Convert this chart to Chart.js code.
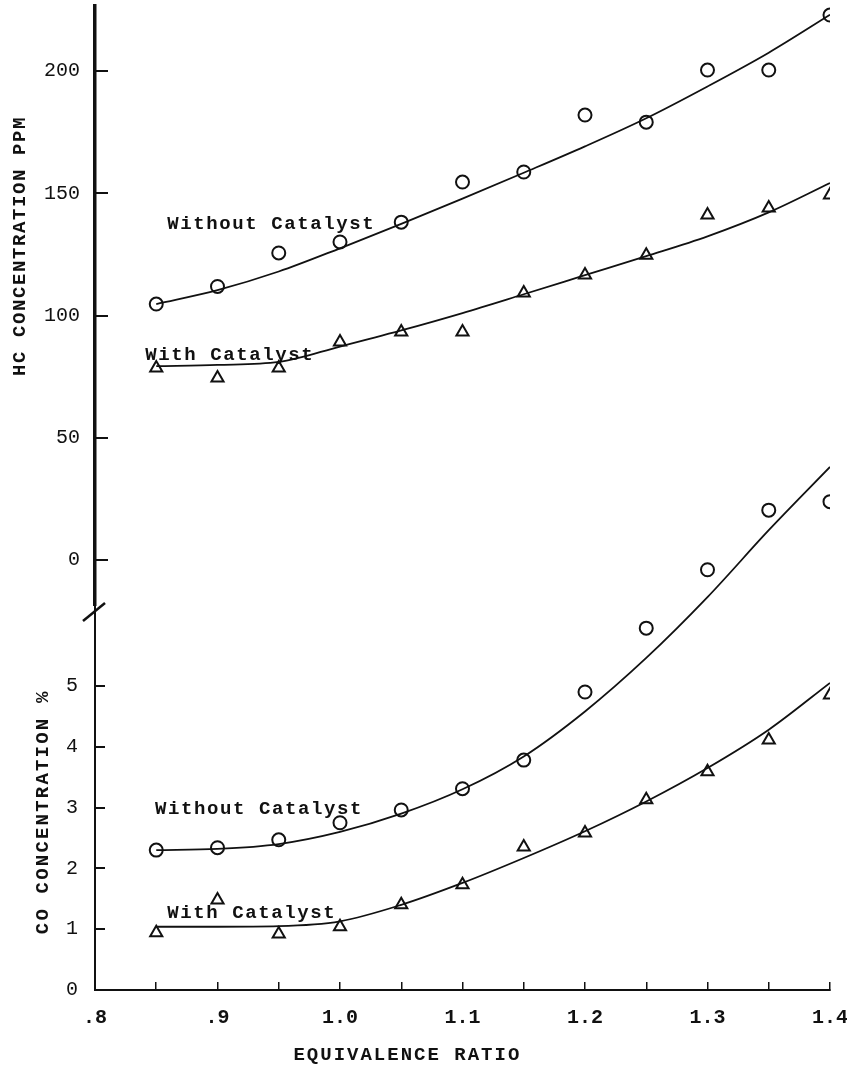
<!DOCTYPE html>
<html>
<head>
<meta charset="utf-8">
<title>HC and CO concentration vs equivalence ratio</title>
<script src="https://cdn.jsdelivr.net/npm/chart.js@4.4.1/dist/chart.umd.min.js"></script>
<style>
  html, body { margin: 0; padding: 0; background: #fff; }
  #wrap { position: relative; width: 847px; height: 1072px; }
  #wrap canvas { position: absolute; left: 0; top: 0; }
</style>
</head>
<body>
<div id="wrap">
  <canvas id="coChart" width="847" height="1072"></canvas>
  <canvas id="hcChart" width="847" height="1072"></canvas>
</div>
<script>
// equivalence ratio of the test points
const ratio = [0.85, 0.90, 0.95, 1.00, 1.05, 1.10, 1.15, 1.20, 1.25, 1.30, 1.35, 1.40];

// HC concentration, ppm  (measured points + faired curve)
const hcWithoutPts = [104.7, 111.9, 125.6, 130.1, 138.2, 154.6, 158.7, 182.0, 179.1, 200.4, 200.4, 222.9];
const hcWithoutFit = [104.7, 110.4, 118.0, 127.5, 137.5, 147.8, 158.4, 169.2, 180.7, 193.7, 207.5, 223.0];
const hcWithPts    = [78.5, 74.4, 78.5, 89.2, 93.3, 93.3, 109.2, 116.6, 124.7, 141.1, 144.0, 149.3];
const hcWithFit    = [79.3, 79.8, 81.0, 87.3, 93.9, 101.0, 108.7, 116.5, 124.3, 132.4, 142.2, 154.2];

// CO concentration, %
const coWithoutPts = [2.30, 2.34, 2.47, 2.75, 2.96, 3.31, 3.78, 4.90, 5.95, 6.91, 7.89, 8.03];
const coWithoutFit = [2.30, 2.32, 2.40, 2.60, 2.90, 3.30, 3.84, 4.58, 5.46, 6.46, 7.56, 8.60];
const coWithPts    = [0.94, 1.48, 0.92, 1.04, 1.40, 1.73, 2.35, 2.58, 3.13, 3.59, 4.11, 4.85];
const coWithFit    = [1.04, 1.04, 1.05, 1.13, 1.40, 1.76, 2.17, 2.61, 3.10, 3.65, 4.28, 5.05];

// axes
const xTicks = [0.8, 0.85, 0.9, 0.95, 1.0, 1.05, 1.1, 1.15, 1.2, 1.25, 1.3, 1.35, 1.4];
const xTickLabels = ['.8', '', '.9', '', '1.0', '', '1.1', '', '1.2', '', '1.3', '', '1.4'];
const hcTicks = [0, 50, 100, 150, 200];
const coTicks = [0, 1, 2, 3, 4, 5];

const INK = '#111';
const MONO = '"Liberation Mono", "DejaVu Sans Mono", monospace';

const pts = (xs, ys) => xs.map((x, i) => ({ x, y: ys[i] }));

function curve(ys) {
    return {
        data: pts(ratio, ys),
        showLine: true,
        borderColor: INK,
        borderWidth: 1.8,
        pointRadius: 0,
        cubicInterpolationMode: 'monotone',
        order: 2
    };
}

function marks(ys, style) {
    return {
        data: pts(ratio, ys),
        showLine: false,
        pointStyle: style,
        pointRadius: style === 'triangle' ? 7 : 6.5,
        pointBorderWidth: 2,
        pointBorderColor: INK,
        pointBackgroundColor: 'rgba(0,0,0,0)',
        order: 1
    };
}

// free text: curve labels, rotated axis titles, axis break
const notesPlugin = {
    id: 'notes',
    afterDatasetsDraw(chart, args, opts) {
        const ctx = chart.ctx;
        const xs = chart.scales.x, ys = chart.scales.y;
        const area = chart.chartArea;
        ctx.save();
        ctx.fillStyle = INK;
        ctx.textBaseline = 'middle';

        ctx.font = 'bold 19px ' + MONO;
        ctx.letterSpacing = '1.6px';
        ctx.textAlign = 'left';
        (opts.labels || []).forEach(n => {
            ctx.fillText(n.text, xs.getPixelForValue(n.x), ys.getPixelForValue(n.y));
        });

        if (opts.yTitle) {
            const t = opts.yTitle;
            ctx.font = 'bold 19px ' + MONO;
            ctx.letterSpacing = t.spacing + 'px';
            ctx.textAlign = 'center';
            ctx.translate(area.left + t.dx, ys.getPixelForValue(t.at));
            ctx.rotate(-Math.PI / 2);
            ctx.fillText(t.text, 0, 0);
            ctx.setTransform(1, 0, 0, 1, 0, 0);
        }

        if (opts.xTitle) {
            const t = opts.xTitle;
            ctx.font = 'bold 19px ' + MONO;
            ctx.letterSpacing = '2px';
            ctx.textAlign = 'center';
            ctx.fillText(t.text, xs.getPixelForValue(t.at), area.bottom + t.dy);
        }

        if (opts.axisBreak) {
            ctx.strokeStyle = INK;
            ctx.lineWidth = 2.5;
            ctx.beginPath();
            ctx.moveTo(area.left - 12, area.bottom + 16);
            ctx.lineTo(area.left + 10, area.bottom - 2);
            ctx.stroke();
        }
        ctx.restore();
    }
};

const xAxis = (show) => ({
    type: 'linear',
    min: 0.8,
    max: 1.4,
    display: show,
    afterBuildTicks: s => { s.ticks = xTicks.map(v => ({ value: v })); },
    afterFit: s => {
        if (show) s.height = 82;
        s.paddingLeft = 0;
        s.paddingRight = 0;
    },
    border: { display: true, color: INK, width: 2 },
    grid: { drawOnChartArea: false, color: INK, lineWidth: 1.5, tickLength: -8 },
    ticks: {
        color: INK,
        padding: 24,
        maxRotation: 0,
        autoSkip: false,
        font: { family: MONO, size: 20, weight: 'bold' },
        callback: (v, i) => xTickLabels[i]
    }
});

function yAxis(min, max, tickList, borderW, tl, pad) {
    return {
        type: 'linear',
        min, max,
        afterBuildTicks: s => { s.ticks = tickList.map(v => ({ value: v })); },
        afterFit: s => {
            s.width = 95;
            s.paddingTop = 0;
            s.paddingBottom = 0;
        },
        border: { display: true, color: INK, width: borderW },
        grid: { drawOnChartArea: false, color: INK, lineWidth: 2, tickLength: tl },
        ticks: {
            color: INK,
            padding: pad,
            font: { family: MONO, size: 20 },
            callback: v => String(v)
        }
    };
}

const baseOpts = {
    responsive: false,
    animation: false,
    events: [],
    plugins: { legend: { display: false }, tooltip: { enabled: false } }
};

// lower panel: CO, carries the shared x axis
new Chart(document.getElementById('coChart'), {
    type: 'scatter',
    data: {
        datasets: [
            curve(coWithoutFit), curve(coWithFit),
            marks(coWithoutPts, 'circle'), marks(coWithPts, 'triangle')
        ]
    },
    options: {
        ...baseOpts,
        layout: { autoPadding: false, padding: { top: 6, right: 17, bottom: 0, left: 0 } },
        scales: {
            x: xAxis(true),
            y: yAxis(0, 16.18, coTicks, 2, -10, 27)
        },
        plugins: {
            ...baseOpts.plugins,
            notes: {
                labels: [
                    { text: 'Without Catalyst', x: 0.849, y: 2.98 },
                    { text: 'With Catalyst', x: 0.859, y: 1.27 }
                ],
                yTitle: { text: 'CO CONCENTRATION %', at: 2.93, dx: -52, spacing: 2.2 },
                xTitle: { text: 'EQUIVALENCE RATIO', at: 1.055, dy: 65 }
            }
        }
    },
    plugins: [notesPlugin]
});

// upper panel: HC
new Chart(document.getElementById('hcChart'), {
    type: 'scatter',
    data: {
        datasets: [
            curve(hcWithoutFit), curve(hcWithFit),
            marks(hcWithoutPts, 'circle'), marks(hcWithPts, 'triangle')
        ]
    },
    options: {
        ...baseOpts,
        layout: { autoPadding: false, padding: { top: 6, right: 17, bottom: 467, left: 0 } },
        scales: {
            x: xAxis(false),
            y: yAxis(-18.4, 226.6, hcTicks, 3.5, -13, 28)
        },
        plugins: {
            ...baseOpts.plugins,
            notes: {
                labels: [
                    { text: 'Without Catalyst', x: 0.859, y: 137.4 },
                    { text: 'With Catalyst', x: 0.841, y: 83.8 }
                ],
                yTitle: { text: 'HC CONCENTRATION PPM', at: 128.4, dx: -75, spacing: 1.6 },
                axisBreak: true
            }
        }
    },
    plugins: [notesPlugin]
});
</script>
</body>
</html>
